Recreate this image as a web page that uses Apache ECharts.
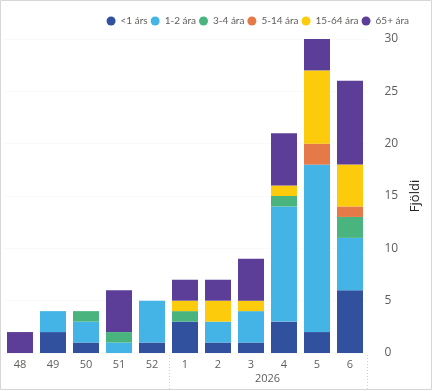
<!DOCTYPE html>
<html><head><meta charset="utf-8">
<script src="https://cdn.jsdelivr.net/npm/echarts@6/dist/echarts.min.js"></script>
<style>html,body{margin:0;padding:0;background:#fff}#c{width:433px;height:391px}</style>
</head><body><div id="c"></div>
<script>
const categories = ['48','49','50','51','52','1','2','3','4','5','6'];
const yearLabel = '2026';
const yearStartIndex = 5;
const seriesNames = ['<1 árs','1-2 ára','3-4 ára','5-14 ára','15-64 ára','65+ ára'];
const under1   = [0,2,1,0,1,3,1,1,3,2,6];
const age1to2  = [0,2,2,1,4,0,2,3,11,16,5];
const age3to4  = [0,0,1,1,0,1,0,0,1,0,2];
const age5to14 = [0,0,0,0,0,0,0,0,0,2,1];
const age15to64= [0,0,0,0,0,1,2,1,1,7,4];
const age65plus= [2,0,0,4,0,2,2,4,5,3,8];
const yTicks = [0,5,10,15,20,25,30];
const colors = ['#31509E','#44B3E6','#49B47E','#E57A48','#FBCB0C','#5C3D97'];
const allData = [under1,age1to2,age3to4,age5to14,age15to64,age65plus];

const font = '"Open Sans", "Noto Sans", sans-serif';
const chart = echarts.init(document.getElementById('c'));
const gridLeft = 3.5, gridRight = 66.5, gridTop = 39, gridBottom = 38;
chart.setOption({
  animation:false,
  color: colors,
  textStyle:{fontFamily:font},
  legend:{
    right:19, top:11, icon:'circle', itemWidth:9, itemHeight:9, itemGap:3,
    textStyle:{fontSize:10, color:'#605E5C', fontFamily:'Lato, "Open Sans", sans-serif'},
    data: seriesNames
  },
  grid:{left:gridLeft, right:gridRight, top:gridTop, bottom:gridBottom, containLabel:false},
  xAxis:{
    type:'category', data:categories,
    axisLine:{show:false}, axisTick:{show:false},
    axisLabel:{color:'#605E5C', fontSize:11, margin:6, fontFamily:font}
  },
  yAxis:{
    type:'value', position:'right', min:yTicks[0], max:yTicks[yTicks.length-1], interval:5,
    name:'Fjöldi', nameLocation:'middle', nameRotate:90, nameGap:34,
    nameTextStyle:{color:'#252423', fontSize:13, fontFamily:font},
    axisLine:{show:false}, axisTick:{show:false},
    axisLabel:{color:'#605E5C', fontSize:12, margin:18, fontFamily:font},
    splitLine:{show:true, lineStyle:{color:'#f3f3f3', type:'dotted'}}
  },
  series: seriesNames.map((n,i)=>({
    name:n, type:'bar', stack:'total', barWidth:26,
    data: allData[i].map(v=> v===0 ? null : v),
    itemStyle:{color:colors[i]}
  }))
});

const p1 = chart.convertToPixel({xAxisIndex:0}, categories[yearStartIndex]);
const p2 = chart.convertToPixel({xAxisIndex:0}, categories[categories.length-1]);
const p0 = chart.convertToPixel({xAxisIndex:0}, categories[yearStartIndex-1]);
const sepX = Math.round((p0+p1)/2)+0.5;
const rightX = Math.round(p2 + (p1-p0)/2)+0.5;
chart.setOption({
  graphic:[
    {type:'rect', shape:{x:0.5,y:0.5,width:431,height:389}, style:{fill:'none', stroke:'#d6d6d6', lineWidth:1}, silent:true},
    {type:'line', shape:{x1:sepX,y1:355,x2:sepX,y2:389}, style:{stroke:'#d0d0d0', lineWidth:1, lineDash:[1,2]}},
    {type:'line', shape:{x1:rightX,y1:355,x2:rightX,y2:389}, style:{stroke:'#d0d0d0', lineWidth:1, lineDash:[1,2]}},
    {type:'text', x:(p1+p2)/2, y:379, style:{text:yearLabel, fill:'#605E5C', font:'11px '+font, textAlign:'center', textVerticalAlign:'middle'}}
  ]
});
</script></body></html>
